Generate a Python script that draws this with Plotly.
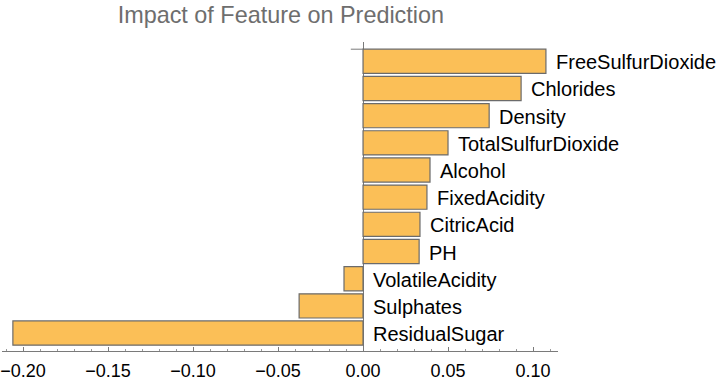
import plotly.graph_objects as go

features = ["FreeSulfurDioxide", "Chlorides", "Density", "TotalSulfurDioxide", "Alcohol",
            "FixedAcidity", "CitricAcid", "PH", "VolatileAcidity", "Sulphates", "ResidualSugar"]
impact = [0.1076, 0.0930, 0.0742, 0.0500, 0.0394, 0.0376, 0.0335, 0.0330, -0.0112, -0.0376, -0.2060]
tick_vals = [-0.20, -0.15, -0.10, -0.05, 0.00, 0.05, 0.10]

n = len(features)
ypos = [n - 1 - i for i in range(n)]

fig = go.Figure()
fig.add_trace(go.Bar(
    x=impact, y=ypos, orientation="h", width=0.89,
    marker=dict(color="#FBBF57", line=dict(color="#6b6b6b", width=1.2)),
    hoverinfo="skip", showlegend=False,
))

for name, v, y in zip(features, impact, ypos):
    fig.add_annotation(x=max(v, 0), y=y, text=name, showarrow=False,
                       xanchor="left", yanchor="middle", xshift=8, yshift=-1,
                       font=dict(family="Liberation Sans, Arial", size=20, color="black"))

fig.update_layout(
    width=722, height=385,
    margin=dict(l=2, r=164, t=42, b=34),
    paper_bgcolor="white", plot_bgcolor="white",
    title=dict(text="Impact of Feature on Prediction", x=0.389, xanchor="center",
               y=0.962, yanchor="middle",
               font=dict(family="Liberation Sans, Arial", size=23.4, color="#6e6e6e")),
    xaxis=dict(range=[-0.2124, 0.1147], tickvals=tick_vals, tickformat=".2f",
               automargin=False,
               showgrid=False, zeroline=True, zerolinecolor="#7a7a7a", zerolinewidth=1,
               showline=True, linecolor="#7a7a7a", linewidth=1,
               ticks="inside", ticklen=4, tickcolor="#7a7a7a", ticklabelstandoff=3,
               minor=dict(dtick=0.01, ticks="inside", ticklen=2, tickcolor="#9a9a9a"),
               tickfont=dict(family="Liberation Sans, Arial", size=18, color="black")),
    yaxis=dict(range=[-0.66, 10.71], showticklabels=False, showgrid=False,
               automargin=False, zeroline=False, showline=False),
)

fig.add_shape(type="line", xref="x", yref="y", x0=-0.0072, x1=0, y0=10.445, y1=10.445,
              line=dict(color="#7a7a7a", width=1))

fig.write_html("out.html", config={"displayModeBar": False},
               post_script="document.body.style.margin='0';")
